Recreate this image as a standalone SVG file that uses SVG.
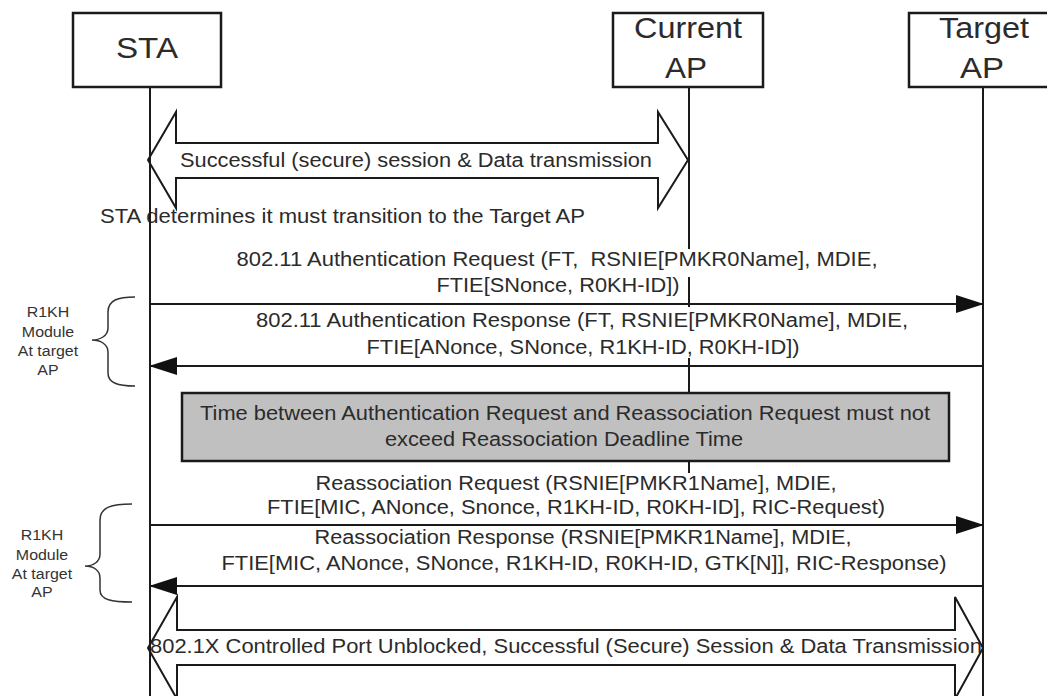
<svg xmlns="http://www.w3.org/2000/svg" width="1047" height="696" viewBox="0 0 1047 696">
<style>
  .box{fill:#fff;stroke:#1a1a1a;stroke-width:2.5}
  .life{fill:none;stroke:#1a1a1a;stroke-width:2}
  .msg{fill:none;stroke:#1a1a1a;stroke-width:2}
  .blk{fill:#fff;stroke:#1a1a1a;stroke-width:2;stroke-linejoin:miter}
  .hdr{font-family:"Liberation Sans",Arial,sans-serif;font-size:29px;fill:#2b2b2b;text-anchor:middle}
  .t{font-family:"Liberation Sans",Arial,sans-serif;font-size:19.5px;fill:#2b2b2b;text-anchor:middle}
  .s{font-family:"Liberation Sans",Arial,sans-serif;font-size:14.5px;fill:#333;text-anchor:middle}
  .brace{fill:none;stroke:#333;stroke-width:1.5}
  .note{fill:#c0c0c0;stroke:#1a1a1a;stroke-width:2.5}
</style>
<defs>
  <marker id="ah" markerUnits="userSpaceOnUse" markerWidth="28" markerHeight="20" refX="27" refY="10" orient="auto">
    <path d="M0,1 L28,10 L0,19 z" fill="#111"/>
  </marker>
</defs>
<rect width="1047" height="696" fill="#fff"/>

<g id="current-ap-lifeline">
  <path class="life" d="M689,87 V249 M689,277 V307 M689,358 V473"/>
</g>

<g id="sta">
  <rect class="box" x="73" y="13" width="148" height="74"/>
  <text class="hdr" x="147" y="58" textLength="62" lengthAdjust="spacingAndGlyphs">STA</text>
</g>
<g id="current-ap">
  <rect class="box" x="613" y="13" width="150" height="74"/>
  <text class="hdr" x="688" y="38" textLength="108" lengthAdjust="spacingAndGlyphs">Current</text>
  <text class="hdr" x="686" y="78" textLength="42" lengthAdjust="spacingAndGlyphs">AP</text>
</g>
<g id="target-ap">
  <rect class="box" x="909" y="13" width="150" height="74"/>
  <text class="hdr" x="984" y="38" textLength="90" lengthAdjust="spacingAndGlyphs">Target</text>
  <text class="hdr" x="982" y="78" textLength="44" lengthAdjust="spacingAndGlyphs">AP</text>
</g>

<g id="session1">
  <path class="blk" d="M148,160 L176,112 L176,143 L658,143 L658,112 L688,160 L658,208 L658,178 L176,178 L176,208 Z"/>
  <text class="t" x="416" y="167" textLength="472" lengthAdjust="spacingAndGlyphs">Successful (secure) session &amp; Data transmission</text>
</g>

<g id="sta-decision">
  <text class="t" x="100" y="223" style="text-anchor:start" textLength="485" lengthAdjust="spacingAndGlyphs">STA determines it must transition to the Target AP</text>
</g>

<g id="connectors">
  <line class="msg" x1="150" y1="304" x2="983" y2="304" marker-end="url(#ah)"/>
  <line class="msg" x1="983" y1="366" x2="150" y2="366" marker-end="url(#ah)"/>
  <line class="msg" x1="150" y1="525" x2="983" y2="525" marker-end="url(#ah)"/>
  <line class="msg" x1="983" y1="586" x2="150" y2="586" marker-end="url(#ah)"/>
</g>

<g id="auth-request">
  <text class="t" x="557" y="266" textLength="641" lengthAdjust="spacingAndGlyphs">802.11 Authentication Request (FT, &#160;RSNIE[PMKR0Name], MDIE,</text>
  <text class="t" x="558" y="292" textLength="243" lengthAdjust="spacingAndGlyphs">FTIE[SNonce, R0KH-ID])</text>
</g>
<g id="auth-response">
  <text class="t" x="582" y="327" textLength="652" lengthAdjust="spacingAndGlyphs">802.11 Authentication Response (FT, RSNIE[PMKR0Name], MDIE,</text>
  <text class="t" x="583" y="354" textLength="433" lengthAdjust="spacingAndGlyphs">FTIE[ANonce, SNonce, R1KH-ID, R0KH-ID])</text>
</g>

<g id="deadline-note">
  <rect class="note" x="182" y="393" width="767" height="68"/>
  <text class="t" x="565" y="420" textLength="730" lengthAdjust="spacingAndGlyphs">Time between Authentication Request and Reassociation Request must not</text>
  <text class="t" x="564" y="446" textLength="358" lengthAdjust="spacingAndGlyphs">exceed Reassociation Deadline Time</text>
</g>

<g id="reassoc-request">
  <text class="t" x="576" y="490" textLength="521" lengthAdjust="spacingAndGlyphs">Reassociation Request (RSNIE[PMKR1Name], MDIE,</text>
  <text class="t" x="576" y="514" textLength="618" lengthAdjust="spacingAndGlyphs">FTIE[MIC, ANonce, Snonce, R1KH-ID, R0KH-ID], RIC-Request)</text>
</g>
<g id="reassoc-response">
  <text class="t" x="583" y="544" textLength="537" lengthAdjust="spacingAndGlyphs">Reassociation Response (RSNIE[PMKR1Name], MDIE,</text>
  <text class="t" x="584" y="570" textLength="725" lengthAdjust="spacingAndGlyphs">FTIE[MIC, ANonce, SNonce, R1KH-ID, R0KH-ID, GTK[N]], RIC-Response)</text>
</g>

<g id="session2">
  <path class="blk" d="M148,648 L177,597 L177,630 L955,630 L955,597 L983,648 L955,699 L955,665 L177,665 L177,699 Z"/>
  <text class="t" x="566" y="653" textLength="832" lengthAdjust="spacingAndGlyphs">802.1X Controlled Port Unblocked, Successful (Secure) Session &amp; Data Transmission</text>
</g>

<g id="lifelines">
  <line class="life" x1="150" y1="87" x2="150" y2="696"/>
  <line class="life" x1="983" y1="87" x2="983" y2="696"/>
</g>

<g id="r1kh-1">
  <path class="brace" d="M135,297 C118,297 108,300 108,312 L108,328 C108,336 100,340 92,340 C100,340 108,344 108,352 L108,373 C108,383 118,386 135,386"/>
  <g transform="translate(48,0) scale(1.1,1)">
    <text class="s" x="0" y="317">R1KH</text>
    <text class="s" x="0" y="337">Module</text>
    <text class="s" x="0" y="356">At target</text>
    <text class="s" x="0" y="375">AP</text>
  </g>
</g>
<g id="r1kh-2">
  <path class="brace" d="M132,504 C112,504 100,507 100,520 L100,554 C100,562 93,566 85,566 C93,566 100,570 100,578 L100,590 C100,600 112,602 132,602"/>
  <g transform="translate(42,0) scale(1.1,1)">
    <text class="s" x="0" y="540">R1KH</text>
    <text class="s" x="0" y="560">Module</text>
    <text class="s" x="0" y="579">At target</text>
    <text class="s" x="0" y="597">AP</text>
  </g>
</g>
</svg>
